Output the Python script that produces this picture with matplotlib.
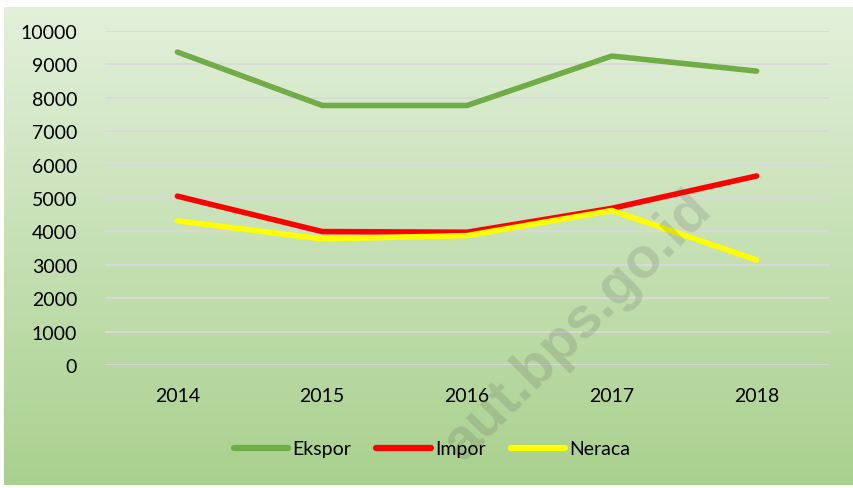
import numpy as np
import matplotlib
matplotlib.use("Agg")
import matplotlib.pyplot as plt
from matplotlib.colors import LinearSegmentedColormap

years = ["2014", "2015", "2016", "2017", "2018"]
ekspor = [9370, 7770, 7770, 9250, 8800]
impor = [5055, 3995, 3975, 4690, 5660]
neraca = [4315, 3775, 3875, 4625, 3145]

plt.rcParams["font.family"] = ["Lato", "DejaVu Sans"]

fig = plt.figure(figsize=(8.54, 4.89), dpi=100)
fig.patch.set_facecolor("white")

# gradient backdrop for the chart area
bg = fig.add_axes([4 / 854, 3 / 489, 850 / 854, 478 / 489], zorder=0)
cmap = LinearSegmentedColormap.from_list("bg", ["#e3f0db", "#a9d18e"])
grad = np.linspace(0, 1, 256).reshape(-1, 1)
bg.imshow(grad, aspect="auto", cmap=cmap, extent=[0, 1, 0, 1], origin="upper")
bg.set_axis_off()

ax = fig.add_axes([105 / 854, 1 - 366 / 489, 724 / 854, 334 / 489], zorder=1)
ax.patch.set_alpha(0)

x = np.arange(len(years))
ax.plot(x, ekspor, color="#70ad47", lw=4, solid_capstyle="round", solid_joinstyle="round", label="Ekspor")
ax.plot(x, impor, color="#ff0000", lw=4, solid_capstyle="round", solid_joinstyle="round", label="Impor")
ax.plot(x, neraca, color="#ffff00", lw=4, solid_capstyle="round", solid_joinstyle="round", label="Neraca")

ax.set_xlim(-0.5, len(years) - 0.5)
ax.set_ylim(0, 10000)
ax.set_yticks(range(0, 10001, 1000))
ax.set_xticks(x)
ax.set_xticklabels(years)
ax.grid(axis="y", color="#d9d9d9", lw=1.3)
ax.set_axisbelow(True)
for s in ax.spines.values():
    s.set_visible(False)
ax.tick_params(axis="y", length=0, pad=20, labelsize=14)
ax.tick_params(axis="x", length=0, pad=16, labelsize=14)

leg = fig.legend(loc="center", bbox_to_anchor=(432 / 854, 1 - 450 / 489), ncol=3, frameon=False,
                 fontsize=14, handlelength=2.8, handletextpad=0.2, columnspacing=1.3)
for h in leg.get_lines():
    h.set_linewidth(4.5)

# faint site watermark
fig.text(578 / 854, 1 - 326 / 489, "aut.bps.go.id", rotation=45, ha="center", va="center",
         fontsize=41, fontweight="bold", family="Liberation Sans", color="#555555", alpha=0.18, zorder=5)

fig.savefig("out.png", dpi=100)
